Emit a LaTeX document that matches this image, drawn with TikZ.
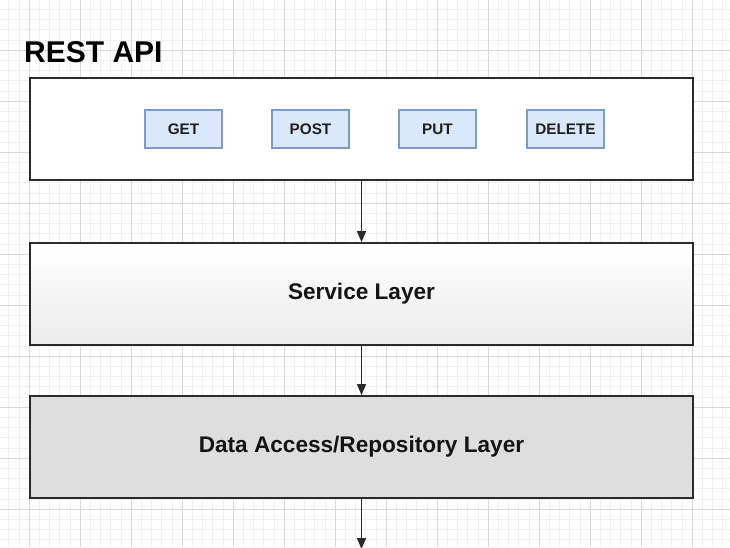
\documentclass[tikz,border=0pt]{standalone}
\usepackage{fontspec}
\setmainfont{Liberation Sans}
\usetikzlibrary{arrows.meta}
\definecolor{btnfill}{HTML}{DAE8FC}
\definecolor{btnline}{HTML}{7F9CC8}
\definecolor{edge}{HTML}{2A2A2A}
\definecolor{gridminor}{HTML}{F1F1F1}
\definecolor{gridmajor}{HTML}{DADADA}
\definecolor{datafill}{HTML}{DEDEDE}
\tikzset{
  layer/.style={draw=edge, line width=1.8pt, minimum width=663pt, minimum height=102pt, inner sep=0pt, font=\fontsize{22.6}{26}\selectfont\bfseries, text=black!92},
  btn/.style={draw=btnline, fill=btnfill, line width=1.2pt, minimum width=77pt, minimum height=38pt, inner sep=0pt, font=\fontsize{15.3}{17}\selectfont\bfseries, text=black!88},
  flow/.style={draw=edge, line width=1.5pt, -{Triangle[length=11pt,width=9pt]}}
}
\begin{document}
\begin{tikzpicture}[x=1pt,y=-1pt]
\useasboundingbox (0,0) rectangle (730,547);
\fill[white] (0,0) rectangle (730,547);
% grid
\foreach \i in {-3,...,73} {
  \draw[gridminor, line width=0.6pt] ({29+10.2*\i},0) -- ({29+10.2*\i},547);
}
\foreach \i in {0,...,54} {
  \draw[gridminor, line width=0.6pt] (0,{-1+10.2*\i}) -- (730,{-1+10.2*\i});
}
\foreach \i in {-1,...,14} {
  \draw[gridmajor, line width=0.8pt] ({29+51*\i},0) -- ({29+51*\i},547);
}
\foreach \i in {0,...,11} {
  \draw[gridmajor, line width=0.8pt] (0,{-1+51*\i}) -- (730,{-1+51*\i});
}
% shaded fill of the service layer (kept inside the border)
\shade[top color=white, bottom color=black!8] (31,244) rectangle (692,344);
% title
\node[anchor=base west, inner sep=0pt, font=\fontsize{30}{34}\selectfont\bfseries] (title) at (24,62) {REST API};
% REST API box
\node[layer, fill=white] (api) at (361.5,129) {};
\node[btn] (get) at (183.5,129) {GET};
\node[btn] (post) at (310.5,129) {POST};
\node[btn] (put) at (437.5,129) {PUT};
\node[btn] (delete) at (565.5,129) {DELETE};
% Service layer
\node[layer] (service) at (361.5,294) {Service Layer};
% Data access layer
\node[layer, fill=datafill] (data) at (361.5,447) {Data Access/Repository Layer};
\coordinate (down) at (361.5,549);
\draw[flow] (api.south) -- (service.north);
\draw[flow] (service.south) -- (data.north);
\draw[flow] (data.south) -- (down);
\end{tikzpicture}
\end{document}
